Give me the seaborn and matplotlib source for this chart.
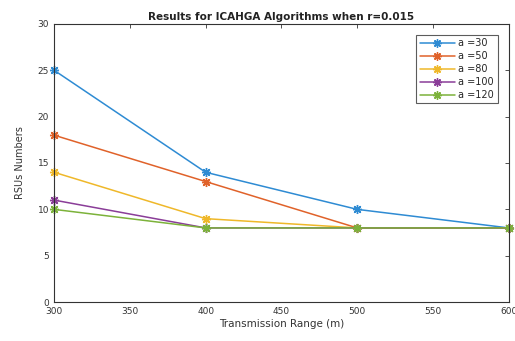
import matplotlib
matplotlib.use("Agg")
import matplotlib.pyplot as plt
import seaborn as sns
import pandas as pd

x_range = [300, 400, 500, 600]
a30 = [25, 14, 10, 8]
a50 = [18, 13, 8, 8]
a80 = [14, 9, 8, 8]
a100 = [11, 8, 8, 8]
a120 = [10, 8, 8, 8]
labels = ["a =30", "a =50", "a =80", "a =100", "a =120"]
colors = ["#2E8BD3", "#E0622A", "#EFB82A", "#8A3D98", "#7CB23A"]

series = [a30, a50, a80, a100, a120]
rows = []
for lab, vals in zip(labels, series):
    for xv, yv in zip(x_range, vals):
        rows.append({"x": xv, "y": yv, "series": lab})
df = pd.DataFrame(rows)

sns.set_theme(style="white")
plt.rcParams["font.family"] = ["DejaVu Sans"]

fig = plt.figure(figsize=(5.15, 3.41), dpi=100)
ax = fig.add_axes([0.105, 0.114, 0.883, 0.816])

sns.lineplot(data=df, x="x", y="y", hue="series", hue_order=labels,
             palette=colors, marker=(8, 2, 0), markersize=6.5,
             linewidth=1.1, ax=ax, legend=True)
for ln in ax.lines:
    ln.set_markeredgecolor(ln.get_color())
    ln.set_markeredgewidth(1.0)
    ln.set_clip_on(False)

ax.set_xlim(300, 600)
ax.set_ylim(0, 30)
ax.set_xticks([300, 350, 400, 450, 500, 550, 600])
ax.set_yticks([0, 5, 10, 15, 20, 25, 30])
ax.tick_params(direction="in", length=3, labelsize=6.5, colors="#333333",
               top=True, right=True, width=0.6)
for s in ax.spines.values():
    s.set_color("#333333")
    s.set_linewidth(0.8)
ax.set_xlabel("Transmission Range (m)", fontsize=7.5, color="#333333", labelpad=2)
ax.set_ylabel("RSUs Numbers", fontsize=7, color="#333333", labelpad=9)
ax.set_title("Results for ICAHGA Algorithms when r=0.015", fontsize=7.5,
             fontweight="bold", color="#222222", pad=3)

leg = ax.legend(loc="upper right", fontsize=7, frameon=True, fancybox=False,
                edgecolor="#333333", handlelength=3.6, borderpad=0.35,
                labelspacing=0.3, handletextpad=0.4, bbox_to_anchor=(0.986, 0.978))
leg.get_frame().set_linewidth(0.8)
for ln in leg.get_lines():
    ln.set_markeredgecolor(ln.get_color())
    ln.set_markeredgewidth(1.0)
    ln.set_markersize(6)

fig.savefig("out.png", dpi=100)
